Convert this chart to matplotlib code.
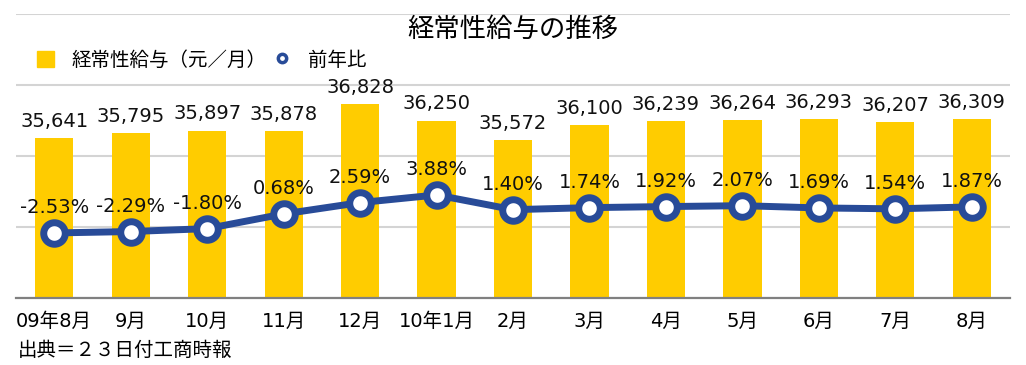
import numpy as np
import matplotlib
matplotlib.use("Agg")
import matplotlib.pyplot as plt
from matplotlib.patches import Patch
from matplotlib.lines import Line2D

plt.rcParams['font.family'] = ['DejaVu Sans', 'Noto Sans CJK JP']

months = ["09年8月", "9月", "10月", "11月", "12月", "10年1月", "2月",
          "3月", "4月", "5月", "6月", "7月", "8月"]
salary = [35641, 35795, 35897, 35878, 36828, 36250, 35572,
          36100, 36239, 36264, 36293, 36207, 36309]
yoy = [-2.53, -2.29, -1.80, 0.68, 2.59, 3.88, 1.40,
       1.74, 1.92, 2.07, 1.69, 1.54, 1.87]

BAR = "#FFCC00"
LINE = "#284B98"

fig = plt.figure(figsize=(10.26, 3.65), dpi=100)
ax = fig.add_axes([16/1026, 67/365, 994/1026, 284/365])
x = np.arange(len(months))

ax.bar(x, salary, width=0.5, color=BAR, zorder=2)
ax.set_ylim(30000, 40000)
ax.set_xlim(-0.5, len(months) - 0.5)
ax.set_yticks([30000, 32500, 35000, 37500, 40000])
ax.yaxis.grid(True, color="#d4d4d4", lw=1.5, zorder=0)
ax.set_axisbelow(True)
ax.set_xticks(x)
ax.set_xticklabels(months, fontsize=14)
for s in ["left", "right", "top"]:
    ax.spines[s].set_visible(False)
ax.spines["bottom"].set_color("#808080")
ax.spines["bottom"].set_linewidth(1.6)

for xi, v in zip(x, salary):
    ax.annotate(f"{v:,}", (xi, v), xytext=(0, 8), textcoords="offset points",
                ha="center", va="baseline", fontsize=14, color="#111111")

ax2 = ax.twinx()
ax2.plot(x, yoy, color=LINE, lw=5, marker="o", ms=15.5, mew=5,
         mfc="white", mec=LINE, zorder=3)
ax2.set_ylim(-13.5, 34.4)
ax2.axis("off")
for xi, v in zip(x, yoy):
    ax2.annotate(f"{v:.2f}%", (xi, v), xytext=(0, 18), textcoords="offset points",
                 ha="center", va="center", fontsize=14, color="#111111")

# twinx turns the left ticks back on
ax.tick_params(axis="y", left=False, right=False, labelleft=False, labelright=False)
ax.tick_params(axis="x", length=0, pad=10)

fig.text(0.5, 1 - 30/365, "経常性給与の推移", ha="center", va="center", fontsize=19)

handles = [Patch(color=BAR),
           Line2D([], [], color=LINE, marker="o", ls="none", ms=6, mew=2.5, mfc="white")]
fig.legend(handles, ["経常性給与（元／月）", "前年比"], loc="center left",
           bbox_to_anchor=(37/1026, 1 - 60/365), ncol=2, frameon=False,
           fontsize=14, handlelength=0.85, handleheight=0.85, handletextpad=0.9,
           columnspacing=0.4, borderaxespad=0, borderpad=0)

fig.text(18/1026, 1 - 350/365, "出典＝２３日付工商時報", ha="left", va="center", fontsize=14)

fig.savefig("out.png", dpi=100)
